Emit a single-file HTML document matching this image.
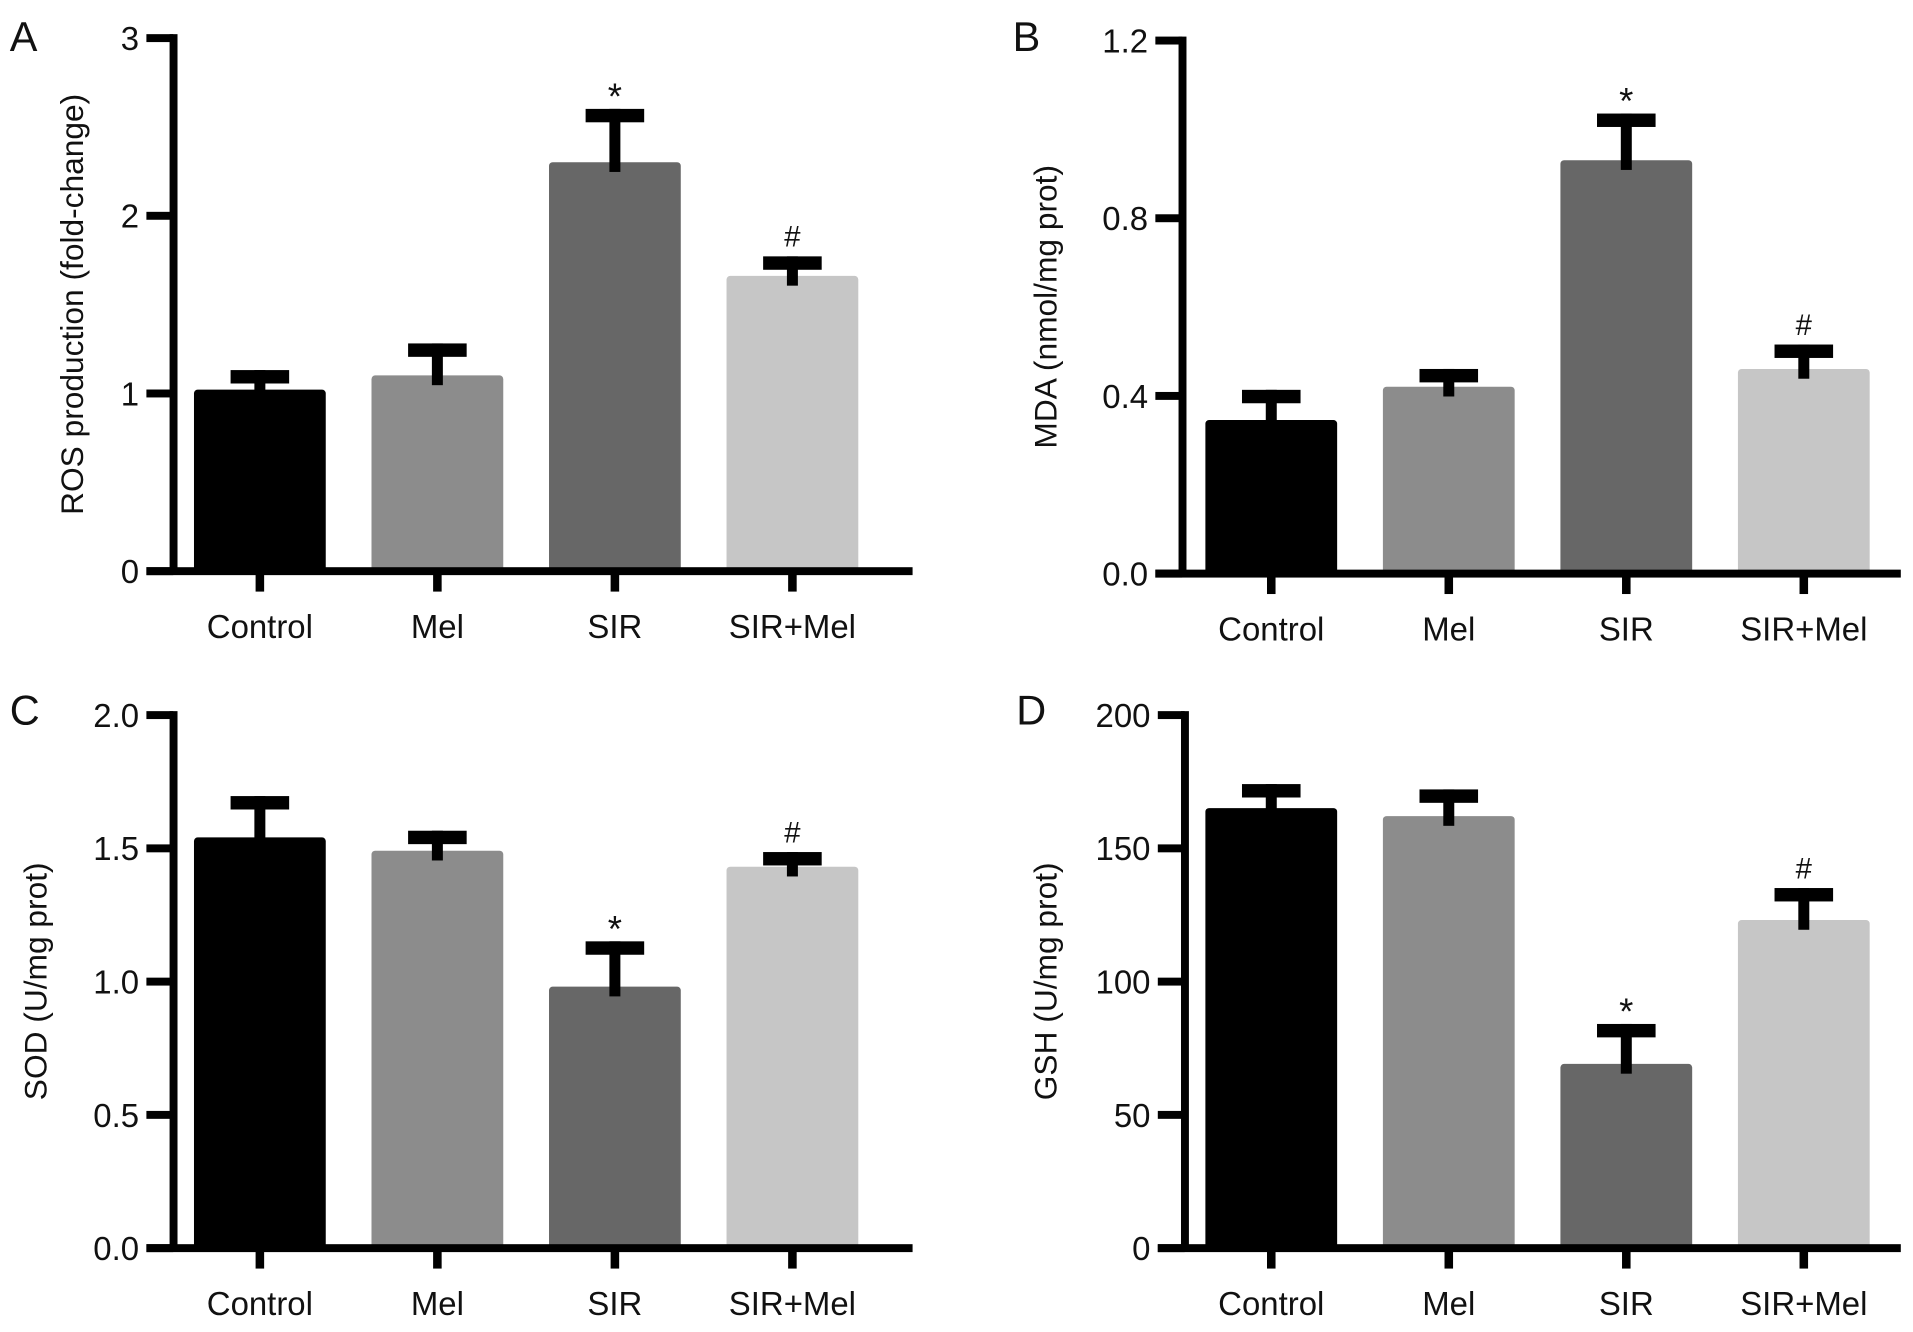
<!DOCTYPE html>
<html><head><meta charset="utf-8"><style>
html,body{margin:0;padding:0;background:#fff;}
svg{display:block;}
text{font-family:"Liberation Sans",sans-serif;fill:#111;}
</style></head><body>
<svg id="fig" width="1913" height="1332" viewBox="0 0 1568 1092" preserveAspectRatio="none" xmlns="http://www.w3.org/2000/svg"></svg>
<script>
const categories = ["Control", "Mel", "SIR", "SIR+Mel"];
const rosValues = [1.02, 1.10, 2.30, 1.66];
const rosErrors = [0.11, 0.18, 0.30, 0.11];
const rosTicks = [0, 1, 2, 3];
const rosTickLabels = ["0", "1", "2", "3"];
const mdaValues = [0.345, 0.42, 0.93, 0.46];
const mdaErrors = [0.068, 0.04, 0.105, 0.055];
const mdaTicks = [0, 0.4, 0.8, 1.2];
const mdaTickLabels = ["0.0", "0.4", "0.8", "1.2"];
const sodValues = [1.54, 1.49, 0.98, 1.43];
const sodErrors = [0.155, 0.075, 0.17, 0.055];
const sodTicks = [0, 0.5, 1.0, 1.5, 2.0];
const sodTickLabels = ["0.0", "0.5", "1.0", "1.5", "2.0"];
const gshValues = [165, 162, 69, 123];
const gshErrors = [9, 10, 15, 12];
const gshTicks = [0, 50, 100, 150, 200];
const gshTickLabels = ["0", "50", "100", "150", "200"];
const colors = ["#000000", "#8c8c8c", "#676767", "#c6c6c6"];

const NS = "http://www.w3.org/2000/svg";
const svg = document.getElementById("fig");
function mk(tag, attrs, parent){
  const e = document.createElementNS(NS, tag);
  for (const k in attrs) e.setAttribute(k, attrs[k]);
  (parent||svg).appendChild(e);
  return e;
}

function panel(opt){
  const g = mk("g", {});
  
  
  const ax = opt.axisX, y0 = opt.y0, yTop = opt.yTop, max = opt.max;
  const yScale = v => y0 - (v / max) * (y0 - yTop);
  const xCenter = i => opt.firstCenter + i * 145.5;
  const bw = 108;
  opt.values.forEach((v, i) => {
    const r = mk("rect", {x: xCenter(i) - bw/2, y: yScale(v), width: bw, height: y0 - yScale(v), fill: colors[i], rx: 3});
    
    
    g.appendChild(r);
    const top = yScale(v + opt.errors[i]);
    const eb = mk("g", {}, g);
    
    
    mk("rect", {x: xCenter(i) - 4.5, y: top, width: 9, height: yScale(v) - top + 8, fill: "#000"}, eb);
    mk("rect", {x: xCenter(i) - 24, y: top, width: 48, height: 11, fill: "#000"}, eb);
  });
  const yAxis = mk("rect", {x: ax - 3, y: yTop - 3, width: 6.5, height: y0 - yTop + 6, fill: "#000"}, g);
  
  
  const xAxis = mk("rect", {x: ax - 22, y: y0 - 3, width: opt.axisEnd - ax + 22, height: 6.5, fill: "#000"}, g);
  
  
  opt.ticks.forEach((t, i) => {
    const y = yScale(t);
    mk("rect", {x: ax - 22, y: y - 3, width: 22, height: 6.5, fill: "#000"}, g);
    const tl = mk("text", {x: ax - 28, y: y + 10, "text-anchor": "end", "font-size": 27}, g);
    tl.textContent = opt.tickLabels[i];
    
    
  });
  categories.forEach((c, i) => {
    mk("rect", {x: xCenter(i) - 3.5, y: y0, width: 7, height: 17, fill: "#000"}, g);
    const cl = mk("text", {x: xCenter(i), y: y0 + 55, "text-anchor": "middle", "font-size": 27}, g);
    cl.textContent = c;
    
    
  });
  opt.marks.forEach((m, i) => {
    if (!m) return;
    const top = yScale(opt.values[i] + opt.errors[i]);
    const a = mk("text", {x: xCenter(i), y: top - (m === "*" ? 0 : 8), "text-anchor": "middle", "font-size": m === "*" ? 30 : 24}, g);
    a.textContent = m;
    
    
  });
  const cy = (y0 + yTop) / 2;
  const yt = mk("text", {x: opt.titleX, y: cy, "text-anchor": "middle", "font-size": 26, transform: "rotate(-90 " + opt.titleX + " " + cy + ")"}, g);
  yt.textContent = opt.title;
  
  
  const pl = mk("text", {x: opt.letterX, y: opt.letterY, "font-size": 34}, g);
  pl.textContent = opt.letter;
  
  
}

panel({id:"ros", values: rosValues, errors: rosErrors, ticks: rosTicks, tickLabels: rosTickLabels, max: 3,
  axisX: 142, y0: 468, yTop: 31, axisEnd: 748, firstCenter: 213, titleX: 68, title: "ROS production (fold-change)",
  letter: "A", letterX: 8, letterY: 42, marks: ["", "", "*", "#"]});
panel({id:"mda", values: mdaValues, errors: mdaErrors, ticks: mdaTicks, tickLabels: mdaTickLabels, max: 1.2,
  axisX: 969, y0: 470, yTop: 33, axisEnd: 1558, firstCenter: 1042, titleX: 866, title: "MDA (nmol/mg prot)",
  letter: "B", letterX: 830, letterY: 42, marks: ["", "", "*", "#"]});
panel({id:"sod", values: sodValues, errors: sodErrors, ticks: sodTicks, tickLabels: sodTickLabels, max: 2.0,
  axisX: 142, y0: 1023, yTop: 586, axisEnd: 748, firstCenter: 213, titleX: 38, title: "SOD (U/mg prot)",
  letter: "C", letterX: 8, letterY: 594, marks: ["", "", "*", "#"]});
panel({id:"gsh", values: gshValues, errors: gshErrors, ticks: gshTicks, tickLabels: gshTickLabels, max: 200,
  axisX: 971, y0: 1023, yTop: 586, axisEnd: 1558, firstCenter: 1042, titleX: 866, title: "GSH (U/mg prot)",
  letter: "D", letterX: 833, letterY: 594, marks: ["", "", "*", "#"]});
</script>
</body></html>
